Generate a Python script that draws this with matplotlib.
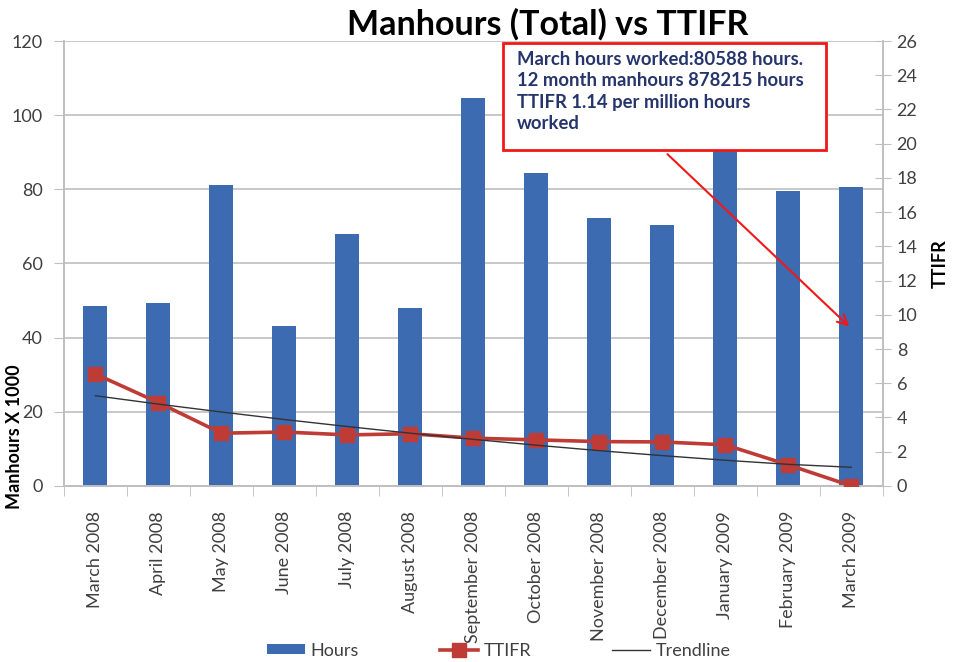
import numpy as np
import matplotlib
matplotlib.use('Agg')
import matplotlib.pyplot as plt
from matplotlib.patches import Rectangle, Patch
from matplotlib.lines import Line2D

months = ['March 2008', 'April 2008', 'May 2008', 'June 2008', 'July 2008',
          'August 2008', 'September 2008', 'October 2008', 'November 2008',
          'December 2008', 'January 2009', 'February 2009', 'March 2009']
hours = [48.5, 49.3, 81.1, 43.1, 67.9, 48.0, 104.6, 84.4, 72.2, 70.3, 97.0, 79.5, 80.6]
ttifr = [6.54, 4.87, 3.08, 3.15, 2.98, 3.05, 2.79, 2.69, 2.59, 2.57, 2.40, 1.23, 0.0]
trend = [5.27, 4.78, 4.32, 3.88, 3.47, 3.08, 2.72, 2.38, 2.06, 1.77, 1.50, 1.26, 1.09]

note = ("March hours worked:80588 hours.\n12 month manhours 878215 hours\n"
        "TTIFR 1.14 per million hours\nworked")

plt.rcParams['font.family'] = ['Lato', 'DejaVu Sans']
txt_col = '#404040'
grid_col = '#BFBFBF'
bar_col = '#3C6BB2'
red = '#BE3B36'

fig = plt.figure(figsize=(9.69, 6.62), dpi=100)
ax1 = fig.add_axes([0.066, 0.266, 0.845, 0.672])
ax2 = ax1.twinx()

x = np.arange(len(months))
ax1.bar(x, hours, width=0.38, color=bar_col, zorder=2)
ax1.set_ylim(0, 120)
ax1.set_yticks(np.arange(0, 121, 20))
ax1.set_xlim(-0.5, len(months) - 0.5)
ax1.set_xticks(x)
ax1.set_xticklabels(months, rotation=90, fontsize=13, color=txt_col)
ax1.set_xticks(np.arange(-0.5, len(months)), minor=True)
ax1.tick_params(axis='x', which='major', length=0, pad=18)
ax1.tick_params(axis='x', which='minor', length=7, color=grid_col)
ax1.tick_params(axis='y', length=7, color=grid_col, labelsize=13, labelcolor=txt_col, pad=8)
ax1.yaxis.grid(True, color=grid_col, lw=1.2)
ax1.set_axisbelow(True)

ax2.plot(x, ttifr, color=red, lw=2.6, marker='s', markersize=10.5, zorder=3)
ax2.plot(x, trend, color='#333333', lw=1.0, zorder=4)
ax2.set_ylim(0, 26)
ax2.set_yticks(np.arange(0, 27, 2))
ax2.tick_params(axis='y', direction='inout', length=12, color=grid_col,
                labelsize=13, labelcolor=txt_col, pad=4)
ax2.set_ylabel('TTIFR', fontsize=13, fontweight='bold', color='black', labelpad=10)

for a in (ax1, ax2):
    a.spines['top'].set_visible(False)
    for s in ('left', 'right', 'bottom'):
        a.spines[s].set_color(grid_col)
        a.spines[s].set_linewidth(1.2)

fig.text(15 / 969, 1 - 437 / 662, 'Manhours X 1000', rotation=90, fontsize=13,
         fontweight='bold', ha='center', va='center')
fig.text(548 / 969, 1 - 24 / 662, 'Manhours (Total) vs TTIFR', fontsize=24.5,
         fontweight='bold', ha='center', va='center')

# callout box
fig.add_artist(Rectangle((503 / 969, 1 - 150 / 662), 323 / 969, 107 / 662,
                         transform=fig.transFigure, facecolor='white',
                         edgecolor='#F01818', lw=2, zorder=5))
fig.text(517 / 969, 1 - 51 / 662, note, fontsize=13.3, fontweight='bold',
         color='#26356B', ha='left', va='top', linespacing=1.32, zorder=6)
ax2.annotate('', xy=(12, 9.2), xytext=(9.05, 19.5),
             arrowprops=dict(arrowstyle='->', color='#F01818', lw=1.5,
                             mutation_scale=18))

handles = [Patch(facecolor=bar_col),
           Line2D([], [], color=red, lw=2.6, marker='s', markersize=10.5),
           Line2D([], [], color='#333333', lw=1.0)]
fig.legend(handles, ['Hours', 'TTIFR', 'Trendline'], loc='center',
           bbox_to_anchor=(0.515, 0.017), ncol=3, frameon=False, fontsize=13,
           labelcolor=txt_col, columnspacing=4.5, handlelength=2.1,
           handleheight=0.5, handletextpad=0.3)

fig.savefig('out.png', dpi=100)
